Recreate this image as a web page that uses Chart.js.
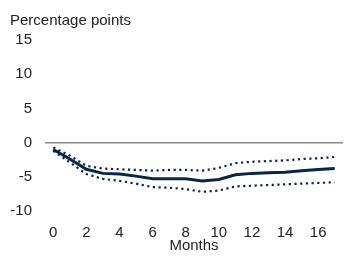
<!DOCTYPE html>
<html>
<head>
<meta charset="utf-8">
<script src="https://cdn.jsdelivr.net/npm/chart.js@4"></script>
<style>
  html, body { margin: 0; padding: 0; background: #fff; }
  #wrap { width: 344px; height: 256px; }
</style>
</head>
<body>
<div id="wrap"><canvas id="irf"></canvas></div>
<script>
const months = [0, 1, 2, 3, 4, 5, 6, 7, 8, 9, 10, 11, 12, 13, 14, 15, 16, 17];
const estimate = [-1.0, -2.4, -3.9, -4.5, -4.6, -4.9, -5.3, -5.3, -5.3, -5.6, -5.4, -4.7, -4.5, -4.4, -4.35, -4.1, -3.95, -3.8];
const upper = [-0.7, -1.9, -3.4, -3.8, -3.9, -4.0, -4.1, -4.0, -4.0, -4.1, -3.7, -3.0, -2.8, -2.7, -2.6, -2.4, -2.3, -2.1];
const lower = [-1.2, -2.9, -4.6, -5.3, -5.6, -6.0, -6.5, -6.6, -6.8, -7.2, -7.0, -6.4, -6.3, -6.2, -6.1, -6.0, -5.9, -5.8];
const xTicks = [0, 2, 4, 6, 8, 10, 12, 14, 16];
const yTicks = [-10, -5, 0, 5, 10, 15];

const navy = "#0a2548";
const pts = (arr) => months.map((m, i) => ({ x: m, y: arr[i] }));

Chart.defaults.font.family = "'Liberation Sans', Arial, sans-serif";
Chart.defaults.font.size = 15;
Chart.defaults.color = "#222";

const ctx = document.getElementById("irf").getContext("2d");

// confidence bands are dotted, the point estimate solid
const band = (arr) => ({
  data: pts(arr), borderColor: navy, borderWidth: 2.2, borderDash: [2.2, 3.5],
  borderCapStyle: "butt", pointRadius: 0, tension: 0,
});

new Chart(ctx, {
  type: "line",
  data: {
    datasets: [
      band(upper),
      band(lower),
      { data: pts(estimate), borderColor: navy, borderWidth: 3, pointRadius: 0, tension: 0 },
    ],
  },
  options: {
    responsive: true,
    maintainAspectRatio: false,
    animation: false,
    layout: { padding: { left: 10, right: 1, top: 0, bottom: 3 } },
    plugins: {
      legend: { display: false },
      tooltip: { enabled: false },
      title: {
        display: true,
        text: "Percentage points",
        align: "start",
        color: "#222",
        font: { size: 15, weight: "normal", lineHeight: 1 },
        padding: { top: 13, bottom: 12 },
      },
    },
    scales: {
      x: {
        type: "linear",
        min: -0.5,
        max: 17.5,
        afterBuildTicks: (s) => { s.ticks = xTicks.map((v) => ({ value: v })); },
        afterFit: (s) => { s.height = 42; },
        ticks: { padding: 14, maxRotation: 0, font: { lineHeight: 1 } },
        grid: { display: false, drawTicks: false },
        border: { display: false },
        title: { display: true, text: "Months", padding: { top: 0, bottom: 0 }, font: { size: 15, lineHeight: 1 } },
      },
      y: {
        min: -10,
        max: 15,
        afterBuildTicks: (s) => { s.ticks = yTicks.map((v) => ({ value: v })); },
        afterFit: (s) => { s.width = 35; },
        ticks: { padding: 13 },
        grid: {
          drawTicks: false,
          lineWidth: 1.5,
          color: (c) => (c.tick && c.tick.value === 0 ? "#8a8a8a" : "rgba(0,0,0,0)"),
        },
        border: { display: false },
      },
    },
  },
});
</script>
</body>
</html>
